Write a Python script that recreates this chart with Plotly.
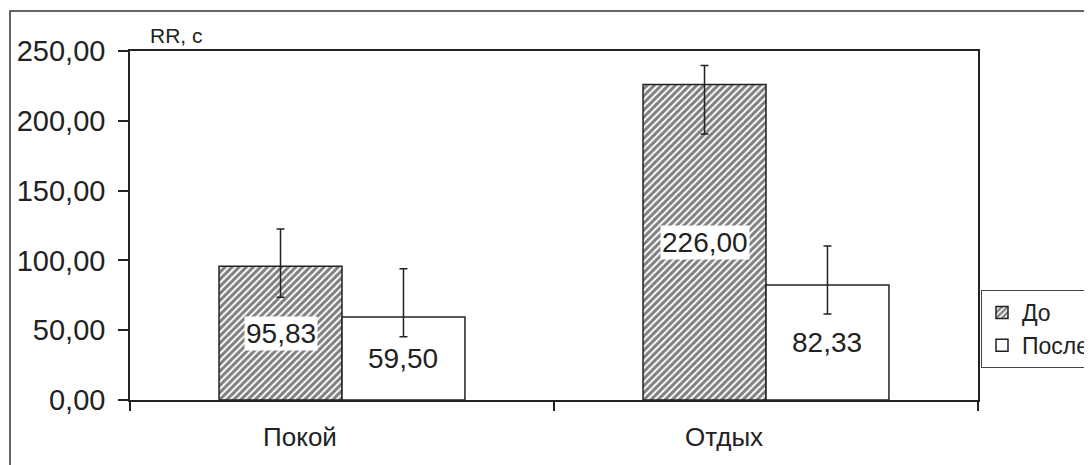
import plotly.graph_objects as go

categories = ["Покой", "Отдых"]
series_names = ["До", "После"]
before_values = [95.83, 226.00]
after_values = [59.50, 82.33]
before_err_plus = [26.7, 13.7]
before_err_minus = [22.2, 35.5]
after_err_plus = [34.6, 28.0]
after_err_minus = [14.2, 20.7]
y_tickvals = [0, 50, 100, 150, 200, 250]
y_ticktext = ["0,00", "50,00", "100,00", "150,00", "200,00", "250,00"]
y_title = "RR, с"

FONT = "Liberation Sans, Arial, sans-serif"
INK = "#222222"
PAGE_PAD = 8  # default body margin of the html page

def fmt(v):
    return f"{v:.2f}".replace(".", ",")

fig = go.Figure()
fig.add_trace(go.Bar(
    name=series_names[0], x=categories, y=before_values,
    marker=dict(color="white", line=dict(color=INK, width=1.5),
                pattern=dict(shape="/", fgcolor="#000000", bgcolor="white", size=5, solidity=0.6)),
    error_y=dict(type="data", symmetric=False, array=before_err_plus,
                 arrayminus=before_err_minus, color=INK, thickness=1.5, width=4),
))
fig.add_trace(go.Bar(
    name=series_names[1], x=categories, y=after_values,
    marker=dict(color="white", line=dict(color=INK, width=1.5)),
    error_y=dict(type="data", symmetric=False, array=after_err_plus,
                 arrayminus=after_err_minus, color=INK, thickness=1.5, width=4),
))

bargap = 0.42
bw = (1 - bargap) / 2
for i in range(len(categories)):
    for j, vals in enumerate([before_values, after_values]):
        fig.add_annotation(
            x=i + (j - 0.5) * bw, y=vals[i] / 2, xref="x", yref="y",
            text=fmt(vals[i]), showarrow=False,
            font=dict(family=FONT, size=28, color=INK),
            bgcolor="white", borderpad=1,
        )

fig.add_annotation(
    x=(148 - 130) / 848, y=1.0, xref="paper", yref="paper", xanchor="left", yanchor="bottom",
    text=y_title, showarrow=False, yshift=2,
    font=dict(family=FONT, size=21, color=INK),
)

# outer chart-area frame
fig.add_shape(type="rect", xref="paper", yref="paper",
              x0=(10 - 130) / 848, x1=1.3, y0=-0.5, y1=(400 - 11) / 349,
              line=dict(color="#333333", width=1.5), fillcolor="rgba(0,0,0,0)", layer="below")

fig.update_layout(
    width=1092 - PAGE_PAD, height=465 - PAGE_PAD,
    margin=dict(l=130 - PAGE_PAD, r=114, t=51 - PAGE_PAD, b=65, autoexpand=False),
    paper_bgcolor="white", plot_bgcolor="white",
    barmode="group", bargap=bargap, bargroupgap=0,
    font=dict(family=FONT, color=INK),
    showlegend=True,
    legend=dict(x=(981 - 130) / 848, y=(400 - 290) / 349, xanchor="left", yanchor="top",
                bordercolor="#444444", borderwidth=1, bgcolor="white",
                font=dict(family=FONT, size=23, color=INK),
                itemwidth=30, tracegroupgap=0),
)
fig.update_xaxes(
    type="category", showline=True, linecolor=INK, linewidth=1.5, mirror=True,
    ticks="outside", tickson="boundaries", ticklen=9, tickcolor=INK, tickwidth=1.5,
    tickfont=dict(family=FONT, size=26, color=INK), ticklabelstandoff=13,
    ticklabelshift=-42,
    showgrid=False, zeroline=False, automargin=False,
)
fig.update_yaxes(
    range=[0, 250], tickvals=y_tickvals, ticktext=y_ticktext,
    showline=True, linecolor=INK, linewidth=1.5, mirror=True,
    ticks="outside", ticklen=10, tickcolor=INK, tickwidth=1.5,
    tickfont=dict(family=FONT, size=29, color=INK), ticklabelstandoff=7,
    showgrid=False, zeroline=False, automargin=False,
)

fig.write_html("out.html")
